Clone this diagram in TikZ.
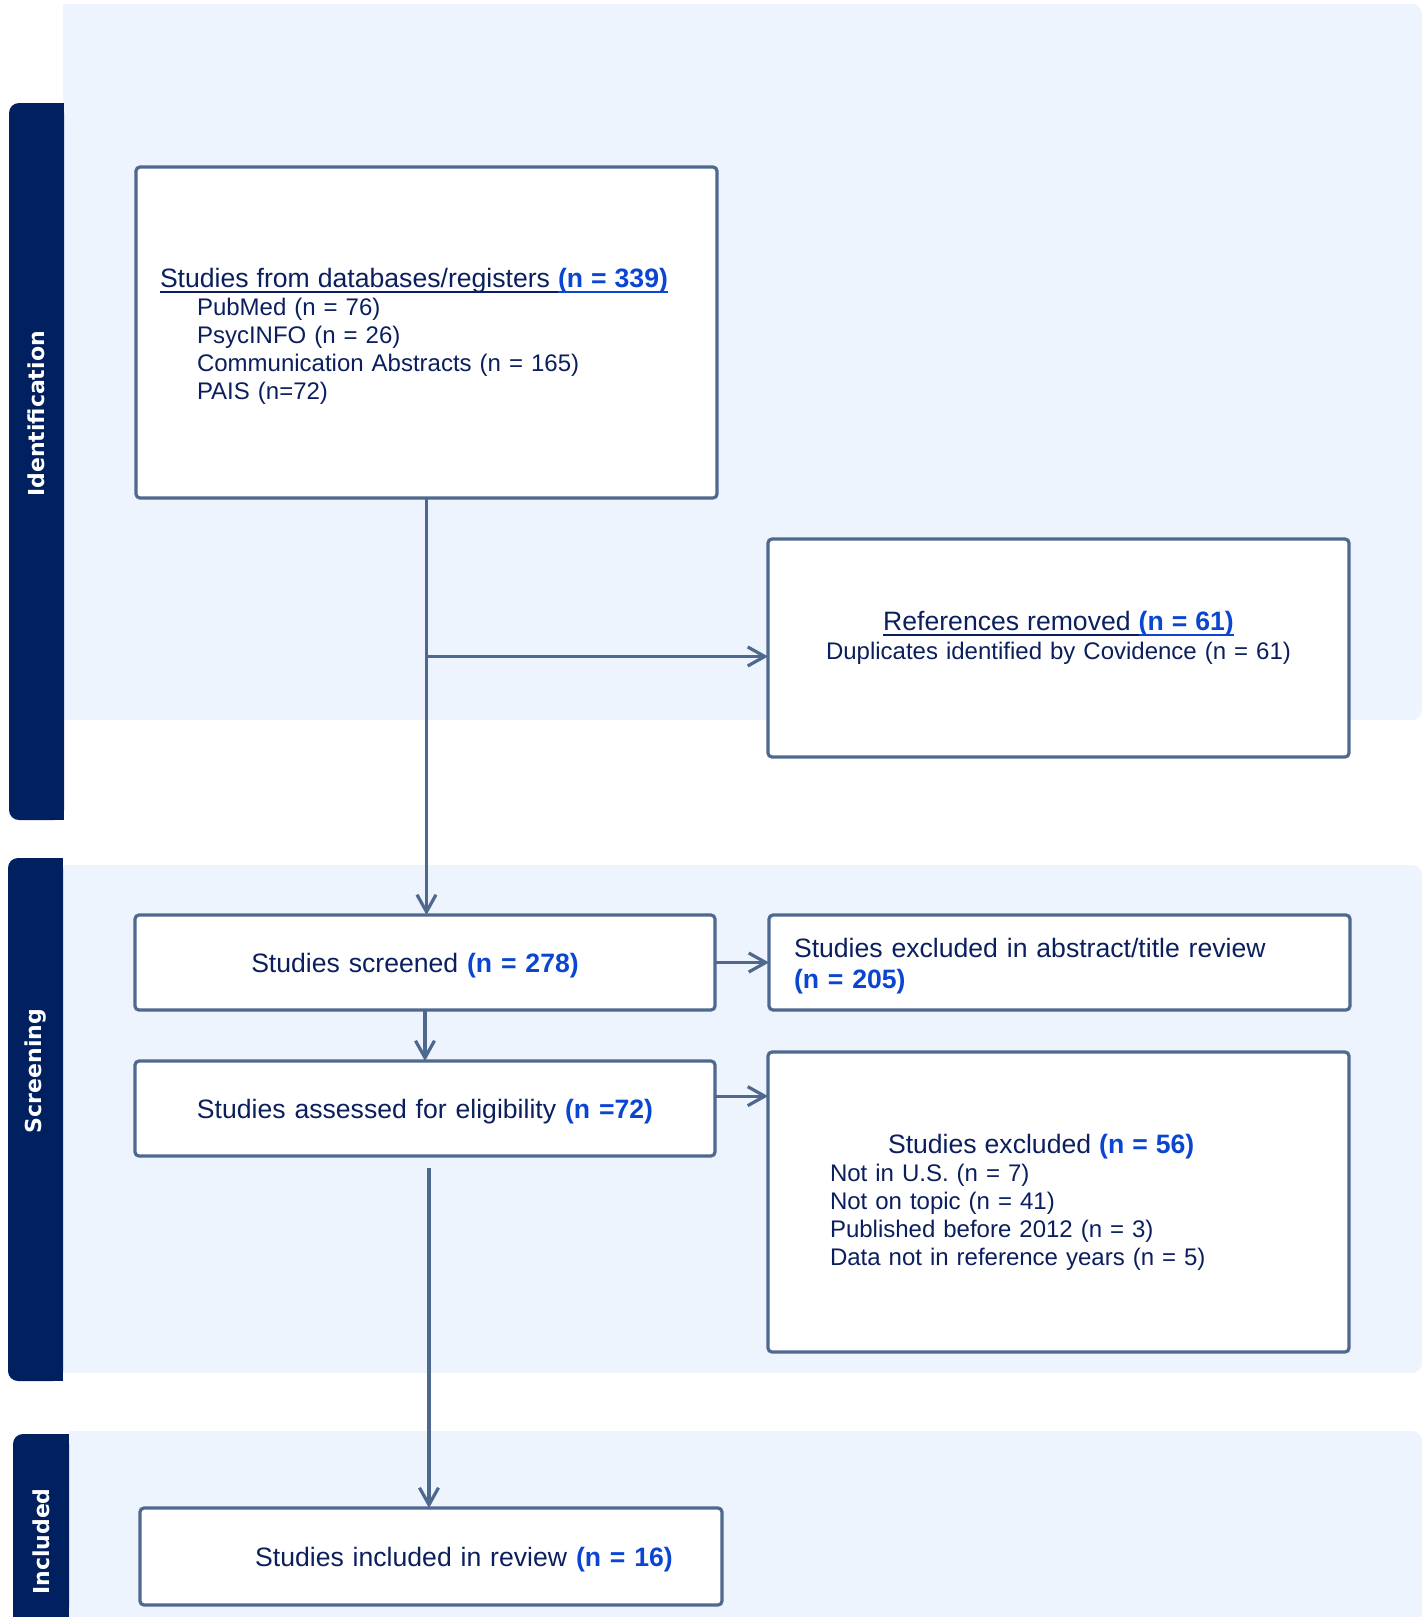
\documentclass[tikz,border=0pt]{standalone}
\usepackage{fontspec}
\setmainfont{Liberation Sans}
\newfontfamily\sidefont{DejaVu Sans}
\usetikzlibrary{arrows.meta,positioning,calc}

\definecolor{sidenavy}{HTML}{002060}
\definecolor{panelblue}{HTML}{EDF4FE}
\definecolor{edgeblue}{HTML}{4F688E}
\definecolor{textnavy}{HTML}{0B1F5E}
\definecolor{numblue}{HTML}{0A46D2}

\newsavebox{\ulsave}
\newcommand{\ulbox}[1]{\sbox{\ulsave}{#1}\rlap{\rule[-2.45pt]{\wd\ulsave}{0.9pt}}\usebox{\ulsave}}
\newcommand{\nval}[1]{{\bfseries\color{numblue}#1}}
\newcommand{\nvalu}[1]{{\bfseries\color{numblue}\ulbox{#1}}}
\newcommand{\headsize}{\fontsize{13.3}{15}\selectfont}
\newcommand{\tallstrut}{\rule{0pt}{13.7pt}}

\tikzset{
    stagepanel/.style={
        fill=panelblue
    },
    stagebar/.style={
        fill=sidenavy
    },
    stagelabel/.style={
        rotate=90,
        text=white,
        font=\sidefont\bfseries\fontsize{11}{13}\selectfont
    },
    block/.style={
        draw=edgeblue,
        line width=1.6pt,
        fill=white,
        rectangle,
        rounded corners=2pt,
        outer sep=0pt,
        text=textnavy,
        font=\fontsize{12}{14}\selectfont,
        minimum width=290.5pt
    },
    oneline/.style={
        minimum width=290pt,
        minimum height=47.5pt,
        text width=278pt,
        text depth=0pt,
        align=center,
        font=\headsize
    },
    flow/.style={
        draw=edgeblue,
        line width=1.6pt,
        -{Straight Barb[length=8.5pt,width=9.5pt]}
    },
}

\begin{document}
\begin{tikzpicture}[x=0.5pt, y=-0.5pt, node distance = 25.5pt and 27pt]
    \useasboundingbox (0,0) rectangle (1422,1617);

    % stage panels and side bars
    \fill[stagepanel, rounded corners=5pt] (63,4) rectangle (1422,720);
    \fill[stagepanel] (63,4) rectangle (700,720);
    \fill[stagepanel, rounded corners=5pt] (63,865) rectangle (1422,1373);
    \fill[stagepanel] (63,865) rectangle (700,1373);
    \fill[stagepanel, rounded corners=5pt] (69,1431) rectangle (1422,1617);
    \fill[stagepanel] (69,1431) rectangle (700,1617);
    \fill[stagepanel] (69,1500) rectangle (1422,1617);

    \fill[stagebar, rounded corners=5pt] (9,103) rectangle (64,820);
    \fill[stagebar] (40,103) rectangle (64,820);
    \fill[stagebar, rounded corners=5pt] (8,858) rectangle (63,1381);
    \fill[stagebar] (40,858) rectangle (63,1381);
    \fill[stagebar, rounded corners=5pt] (13,1434) rectangle (69,1617);
    \fill[stagebar] (40,1434) rectangle (69,1617);
    \fill[stagebar] (13,1500) rectangle (69,1617);

    \node[stagelabel] (lblident) at (36.5,414) {Identification};
    \node[stagelabel] (lblscreen) at (35.5,1071) {Screening};
    \node[stagelabel] (lblincl) at (41,1541.5) {Included};

    % boxes
    \node[block, minimum height=165.5pt, inner xsep=12pt, text width=266.5pt, align=left] (sources) at (426.5,332.5)
        {{\headsize\tallstrut\ulbox{Studies from databases/registers }\nvalu{(n = 339)}}\\
         \hspace*{18.5pt}PubMed (n = 76)\\
         \hspace*{18.5pt}PsycINFO (n = 26)\\
         \hspace*{18.5pt}Communication Abstracts (n = 165)\\
         \hspace*{18.5pt}PAIS (n=72)};
    \node[block, minimum height=109pt, text width=278.5pt, align=center, font=\fontsize{12}{14.5}\selectfont] (removed) at (1058.5,648)
        {{\headsize\ulbox{References removed }\nvalu{(n = 61)}}\\
         Duplicates identified by Covidence (n = 61)\\[-2pt]\mbox{}};
    \node[block, oneline] (screened) at (425,962.5)
        {\hspace*{-10pt}Studies screened \nval{(n = 278)}};
    \node[block, oneline, below= of screened] (eligible)
        {Studies assessed for eligibility \nval{(n =72)}};
    \node[block, minimum height=47.5pt, inner xsep=12.5pt, text width=265.5pt, align=left, font=\fontsize{13.3}{15.5}\selectfont, right= of screened] (abstract)
        {\tallstrut Studies excluded in abstract/title review\\ \nval{(n = 205)}};
    \node[block, minimum height=150pt, inner xsep=31pt, text width=228.5pt, align=left] (excluded) at (1058.5,1202)
        {{\headsize\hspace*{29pt}Studies excluded \nval{(n = 56)}}\\
         Not in U.S. (n = 7)\\
         Not on topic (n = 41)\\
         Published before 2012 (n = 3)\\
         Data not in reference years (n = 5)};
    \node[block, oneline, minimum width=291pt, minimum height=48.5pt, text width=279pt] (included) at (431,1556.5)
        {\hspace*{33pt}Studies included in review \nval{(n = 16)}};

    \coordinate (split) at ($(sources.south)!0.38!(sources.south |- screened.north)$);
    \coordinate (eligout) at ($(eligible.north east)!0.37!(eligible.south east)$);
    \coordinate (gapstart) at ([xshift=2pt,yshift=-6pt]eligible.south);

    \draw[flow] (sources.south) -- (sources.south |- screened.north);
    \draw[flow] (split) -- (split -| removed.west);
    \draw[flow] (screened.east) -- (abstract.west);
    \draw[flow] (screened.south) -- (eligible.north);
    \draw[flow] (eligout) -- (eligout -| excluded.west);
    \draw[flow] (gapstart) -- (gapstart |- included.north);
\end{tikzpicture}
\end{document}
